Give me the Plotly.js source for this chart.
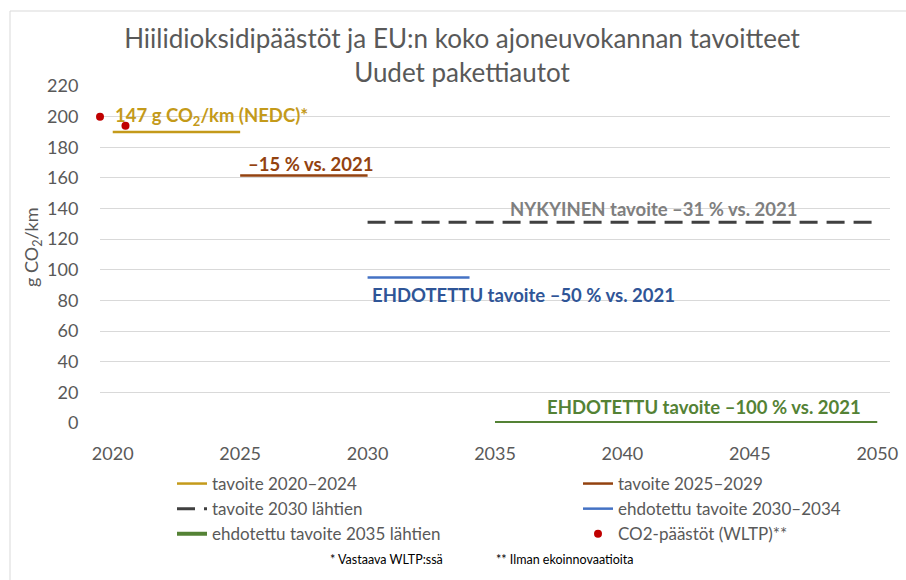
<!DOCTYPE html>
<html>
<head>
<meta charset="utf-8">
<script src="https://cdn.plot.ly/plotly-3.0.1.min.js"></script>
<style>html,body{margin:0;padding:0;background:#fff;}#chart{width:906px;height:580px;}</style>
</head>
<body>
<div id="chart"></div>
<script>
// ---- data ----
const seriesNames = ["tavoite 2020–2024", "tavoite 2025–2029", "tavoite 2030 lähtien", "ehdotettu tavoite 2030–2034", "ehdotettu tavoite 2035 lähtien", "CO2-päästöt (WLTP)**"];
const target2020Years = [2020, 2025];
const target2020Values = [190, 190];
const target2025Years = [2025, 2030];
const target2025Values = [161.5, 161.5];
const target2030Years = [2030, 2050];
const target2030Values = [131, 131];
const proposed2030Years = [2030, 2034];
const proposed2030Values = [95, 95];
const proposed2035Years = [2035, 2050];
const proposed2035Values = [0, 0];
const emissionYears = [2019.5, 2020.5];
const emissionValues = [200, 194];
const xTicks = [2020, 2025, 2030, 2035, 2040, 2045, 2050];
const yTicks = [0, 20, 40, 60, 80, 100, 120, 140, 160, 180, 200, 220];

const FONT = "Lato, 'Open Sans', sans-serif";
const GREY = "#595959";
const cGold = "#C49A1A", cBrown = "#93420F", cDark = "#404040", cBlue = "#4472C4", cGreen = "#548235", cRed = "#C00000";

const traces = [
  {x: target2020Years, y: target2020Values, name: seriesNames[0], legend: "legend", mode: "lines", line: {color: cGold, width: 2.5}},
  {x: target2025Years, y: target2025Values, name: seriesNames[1], legend: "legend2", mode: "lines", line: {color: cBrown, width: 2.5}},
  {x: target2030Years, y: target2030Values, name: seriesNames[2], legend: "legend", mode: "lines", line: {color: cDark, width: 3, dash: "18px,9px"}},
  {x: proposed2030Years, y: proposed2030Values, name: seriesNames[3], legend: "legend2", mode: "lines", line: {color: cBlue, width: 2.5}},
  {x: proposed2035Years, y: proposed2035Values, name: seriesNames[4], legend: "legend", mode: "lines", line: {color: cGreen, width: 4}},
  {x: emissionYears, y: emissionValues, name: seriesNames[5], legend: "legend2", mode: "markers", cliponaxis: false, marker: {color: cRed, size: 8}}
];

const ann = (x, y, text, color, anchor) => ({x, y, xref: "x", yref: "y", text, showarrow: false, xanchor: anchor || "center", yanchor: "middle", font: {family: FONT, size: 18.5, color, weight: 700}});

const legendBase = {orientation: "v", xref: "paper", yref: "paper", xanchor: "left", yanchor: "top", y: (423 - 466) / 337, font: {family: FONT, size: 17, color: GREY}, bgcolor: "rgba(0,0,0,0)", traceorder: "normal"};

const layout = {
  width: 906, height: 580,
  margin: {l: 100, r: 16, t: 86, b: 157},
  paper_bgcolor: "#fff", plot_bgcolor: "#fff",
  font: {family: FONT, color: GREY},
  title: {text: "Hiilidioksidipäästöt ja EU:n koko ajoneuvokannan tavoitteet<br>Uudet pakettiautot", x: 462 / 906, xanchor: "center", xref: "container", y: 1 - 48 / 580, yref: "container", yanchor: "top", font: {family: FONT, size: 26, color: GREY}},
  xaxis: {range: [2019.5, 2050.5], tickvals: xTicks, ticktext: xTicks.map(String), showgrid: false, zeroline: false, showline: false, ticks: "outside", ticklen: 14, tickcolor: "rgba(0,0,0,0)", tickfont: {family: FONT, size: 18, color: GREY}},
  yaxis: {range: [0, 220], tickvals: yTicks, showgrid: true, gridcolor: "#D9D9D9", gridwidth: 1, zeroline: false, showline: false, ticks: "outside", ticklen: 17, tickcolor: "rgba(0,0,0,0)", tickfont: {family: FONT, size: 18, color: GREY}},
  showlegend: true,
  legend: Object.assign({}, legendBase, {x: (172 - 100) / 790}),
  legend2: Object.assign({}, legendBase, {x: (578 - 100) / 790}),
  annotations: [
    ann(2020, 200, "147 g CO<sub>2</sub>/km (NEDC)*", cGold, "left"),
    ann(2027.76, 169.4, "–15 % vs. 2021", cBrown),
    ann(2041.2, 139.6, "NYKYINEN tavoite –31 % vs. 2021", "#7F7F7F"),
    ann(2036.1, 83.5, "EHDOTETTU tavoite –50 % vs. 2021", "#2F5597"),
    ann(2043.2, 10.6, "EHDOTETTU tavoite –100 % vs. 2021", cGreen),
    {x: (33 - 100) / 790, y: (423 - 247) / 337, xref: "paper", yref: "paper", text: "g CO<sub>2</sub>/km", textangle: -90, showarrow: false, xanchor: "center", yanchor: "middle", font: {family: FONT, size: 18, color: GREY}},
    {x: (328 - 100) / 790, y: (423 - 559) / 337, xref: "paper", yref: "paper", text: "* Vastaava WLTP:ssä", showarrow: false, xanchor: "left", yanchor: "middle", font: {family: FONT, size: 12.5, color: "#000"}},
    {x: (494 - 100) / 790, y: (423 - 559) / 337, xref: "paper", yref: "paper", text: "** Ilman ekoinnovaatioita", showarrow: false, xanchor: "left", yanchor: "middle", font: {family: FONT, size: 12.5, color: "#000"}}
  ],
  shapes: [
    {type: "line", xref: "paper", yref: "paper", x0: (10 - 100) / 790, x1: (10 - 100) / 790, y0: (423 - 11) / 337, y1: (423 - 600) / 337, line: {color: "#D9D9D9", width: 1}},
    {type: "line", xref: "paper", yref: "paper", x0: (10 - 100) / 790, x1: (920 - 100) / 790, y0: (423 - 11) / 337, y1: (423 - 11) / 337, line: {color: "#D9D9D9", width: 1}}
  ]
};

Plotly.newPlot("chart", traces, layout, {displayModeBar: false, staticPlot: true});
</script>
</body>
</html>
